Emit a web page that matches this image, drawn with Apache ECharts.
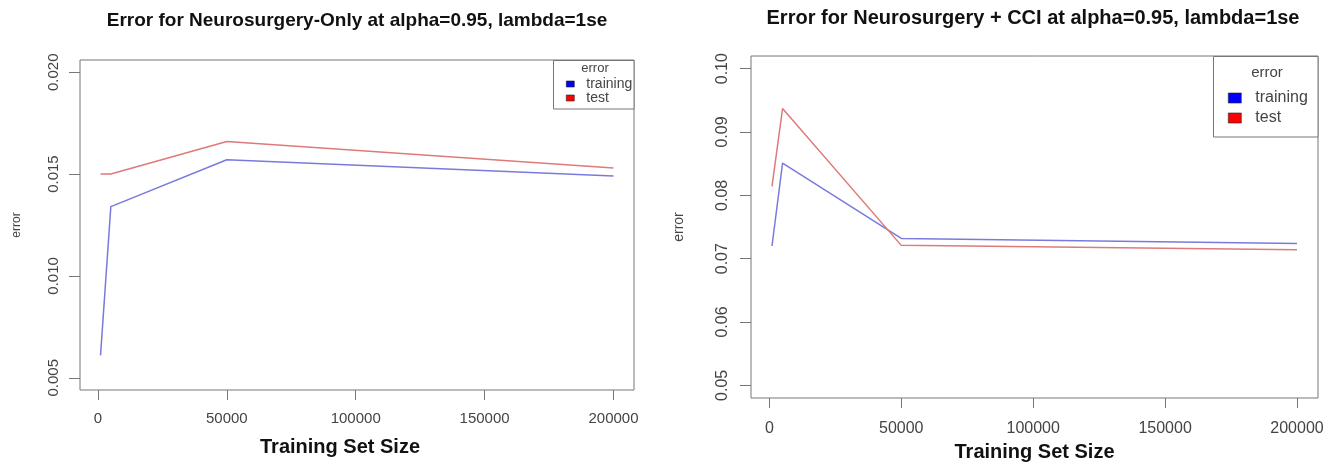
<!DOCTYPE html>
<html>
<head>
<meta charset="utf-8">
<script src="https://cdn.jsdelivr.net/npm/echarts@6/dist/echarts.min.js"></script>
<style>
html,body{margin:0;padding:0;background:#fff;}
#chart{width:1334px;height:462px;}
</style>
</head>
<body>
<div id="chart"></div>
<script>
// ---- data ----
const trainingSizes = [1000, 5000, 50000, 200000];
const neuroTraining = [0.0061, 0.0134, 0.0157, 0.0149];
const neuroTest     = [0.0150, 0.0150, 0.0166, 0.0153];
const cciTraining   = [0.0720, 0.0851, 0.0732, 0.0724];
const cciTest       = [0.0814, 0.0937, 0.0721, 0.0714];

const xTicks = [0, 50000, 100000, 150000, 200000];
const neuroYTicks = [0.005, 0.010, 0.015, 0.020];
const cciYTicks = [0.05, 0.06, 0.07, 0.08, 0.09, 0.10];

const titles = [
  'Error for Neurosurgery-Only at alpha=0.95, lambda=1se',
  'Error for Neurosurgery + CCI at alpha=0.95, lambda=1se'
];
const xName = 'Training Set Size';
const yName = 'error';
const seriesNames = ['training', 'test'];
const legendTitle = 'error';

// ---- styling ----
const FONT = '"Liberation Sans", Arial, Helvetica, sans-serif';
const trainColor = '#7a7ade';
const testColor = '#de7a7a';
const boxColor = '#777';
const labelColor = '#444';

function pairs(xs, ys) { return xs.map((x, i) => [x, ys[i]]); }

const chart = echarts.init(document.getElementById('chart'), null, {renderer: 'canvas'});

function xAxisDef(gridIndex, fontSize, margin, nameGap, namePad) {
  return {
    type: 'value', gridIndex: gridIndex,
    min: -6960, max: 207960,
    axisLine: {show: false, onZero: false},
    splitLine: {show: false},
    axisTick: {show: true, inside: false, length: 10, customValues: xTicks,
      lineStyle: {color: boxColor, width: 1}},
    axisLabel: {show: true, customValues: xTicks, margin: margin,
      color: labelColor, fontFamily: FONT, fontSize: fontSize,
      formatter: v => String(v)},
    name: xName, nameLocation: 'middle', nameGap: nameGap,
    nameTextStyle: {fontFamily: FONT, fontWeight: 'bold', fontSize: 20, color: '#111', padding: namePad}
  };
}
function yAxisDef(gridIndex, min, max, ticks, decimals, fontSize, margin) {
  return {
    type: 'value', gridIndex: gridIndex, min: min, max: max,
    axisLine: {show: false, onZero: false},
    splitLine: {show: false},
    axisTick: {show: true, inside: false, length: 11, customValues: ticks,
      lineStyle: {color: boxColor, width: 1}},
    axisLabel: {show: true, customValues: ticks, rotate: 90, margin: margin,
      color: labelColor, fontFamily: FONT, fontSize: fontSize,
      formatter: v => Number(v).toFixed(decimals)}
  };
}
function lineSeries(name, xi, data, color) {
  return {
    type: 'line', name: name, xAxisIndex: xi, yAxisIndex: xi,
    data: data, symbol: 'none', smooth: false, silent: true,
    lineStyle: {color: color, width: 1.5}, itemStyle: {color: color},
    animation: false
  };
}
function legendDef(left, top, iw, ih, fontSize, lineH, gap, pad, width) {
  const ts = {fontFamily: FONT, fontSize: fontSize, color: labelColor, lineHeight: lineH, padding: [0, 0, 0, pad]};
  if (width) { ts.width = width; ts.overflow = 'truncate'; ts.ellipsis = ''; }
  return {
    orient: 'vertical', left: left, top: top, padding: 0, z: 10,
    itemWidth: iw, itemHeight: ih, itemGap: gap, icon: 'rect',
    selectedMode: false,
    textStyle: ts,
    data: [
      {name: seriesNames[0], itemStyle: {color: '#0000ff', borderColor: '#222', borderWidth: 0.6}},
      {name: seriesNames[1], itemStyle: {color: '#ff0000', borderColor: '#222', borderWidth: 0.6}}
    ]
  };
}
function label(text, x, y, font, fill, rot) {
  return {type: 'text', x: x, y: y, z: 10, rotation: rot || 0,
    style: {text: text, font: font, fill: fill, align: 'center', verticalAlign: 'middle',
      textAlign: 'center', textVerticalAlign: 'middle'}};
}

const option = {
  backgroundColor: '#fff',
  animation: false,
  grid: [
    {left: 80, top: 60, width: 554, height: 330, show: true, borderColor: boxColor, borderWidth: 1,
      containLabel: false, outerBoundsMode: 'none'},
    {left: 751, top: 56, width: 567, height: 342, show: true, borderColor: boxColor, borderWidth: 1,
      containLabel: false, outerBoundsMode: 'none'}
  ],
  xAxis: [
    xAxisDef(0, 15, 21, 47, [0, 34, 0, 0]),
    xAxisDef(1, 16, 23, 44, 0)
  ],
  yAxis: [
    yAxisDef(0, 0.0044, 0.0206, neuroYTicks, 3, 15, 19),
    yAxisDef(1, 0.048, 0.102, cciYTicks, 2, 16, 20)
  ],
  legend: [
    legendDef(566, 77, 8, 6, 14, 14, 0, 7, 55),
    legendDef(1228, 90, 13, 10, 16, 16, 4, 9, 0)
  ],
  graphic: [
    {type: 'rect', shape: {x: 553.5, y: 60.5, width: 80.5, height: 48.5}, z: 1, style: {fill: '#fff', stroke: boxColor, lineWidth: 1}},
    {type: 'rect', shape: {x: 1213.5, y: 56.5, width: 104.5, height: 80.5}, z: 1, style: {fill: '#fff', stroke: boxColor, lineWidth: 1}},
    label(titles[0], 357, 21, 'bold 19px ' + FONT, '#111'),
    label(titles[1], 1033, 18, 'bold 20px ' + FONT, '#111'),
    label(legendTitle, 595, 68, '13px ' + FONT, labelColor),
    label(legendTitle, 1267, 73, '15px ' + FONT, labelColor),
    label(yName, 17, 225, '12px ' + FONT, labelColor, Math.PI / 2),
    label(yName, 679, 227, '14px ' + FONT, labelColor, Math.PI / 2)
  ],
  series: [
    lineSeries(seriesNames[0], 0, pairs(trainingSizes, neuroTraining), trainColor),
    lineSeries(seriesNames[1], 0, pairs(trainingSizes, neuroTest), testColor),
    lineSeries(seriesNames[0], 1, pairs(trainingSizes, cciTraining), trainColor),
    lineSeries(seriesNames[1], 1, pairs(trainingSizes, cciTest), testColor)
  ]
};
chart.setOption(option);
</script>
</body>
</html>
